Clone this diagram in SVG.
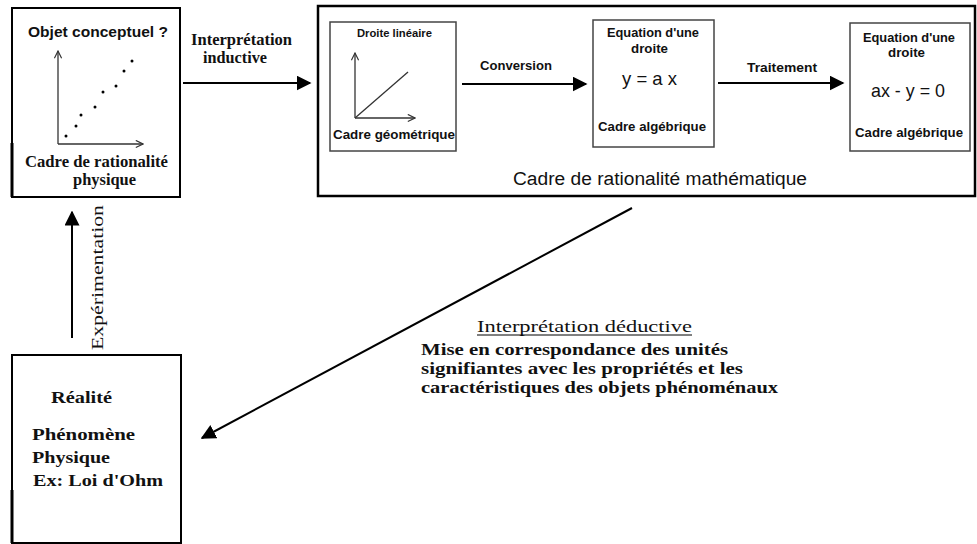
<svg xmlns="http://www.w3.org/2000/svg" width="977" height="544" viewBox="0 0 977 544">
<style>
.bx{fill:#fff;stroke:#000;stroke-width:2}
.ibx{fill:#fff;stroke:#444;stroke-width:1.5}
.ln{stroke:#000;stroke-width:2;fill:none}
.ax{stroke:#333;stroke-width:1.3;fill:none}
.sans{font-family:"Liberation Sans",Arial,sans-serif;font-weight:bold;fill:#111}
.sansr{font-family:"Liberation Sans",Arial,sans-serif;fill:#111}
.serif{font-family:"Liberation Serif","Times New Roman",serif;font-weight:bold;fill:#111}
.serifr{font-family:"Liberation Serif","Times New Roman",serif;fill:#111}
</style>
<defs>
<marker id="ah" viewBox="0 0 10 10" refX="9" refY="5" markerWidth="15" markerHeight="15" markerUnits="userSpaceOnUse" orient="auto"><path d="M0,0 L10,5 L0,10 z" fill="#000"/></marker>
<marker id="oa" viewBox="0 0 10 10" refX="9" refY="5" markerWidth="9" markerHeight="9" markerUnits="userSpaceOnUse" orient="auto"><path d="M1,1 L9,5 L1,9" fill="none" stroke="#333" stroke-width="1.3"/></marker>
</defs>
<rect width="977" height="544" fill="#fff"/>

<g id="objet-conceptuel">
<rect class="bx" x="12" y="8" width="168" height="189"/>
<line x1="12" y1="143" x2="12" y2="197" stroke="#000" stroke-width="3"/>
<text class="sans" x="28" y="37" font-size="15" textLength="140" lengthAdjust="spacingAndGlyphs">Objet conceptuel ?</text>
<line class="ax" x1="58" y1="144" x2="58" y2="51" marker-end="url(#oa)"/>
<line class="ax" x1="58" y1="144" x2="143" y2="144" marker-end="url(#oa)"/>
<g fill="#000">
<circle cx="66" cy="136" r="1.5"/><circle cx="76" cy="126" r="1.5"/><circle cx="81" cy="115" r="1.5"/><circle cx="95" cy="107" r="1.5"/>
<circle cx="103" cy="92" r="1.5"/><circle cx="116" cy="86" r="1.5"/><circle cx="124" cy="71" r="1.5"/><circle cx="132" cy="61" r="1.5"/>
</g>
<text class="serif" x="25" y="167" font-size="17" textLength="143" lengthAdjust="spacingAndGlyphs">Cadre de rationalité</text>
<text class="serif" x="73" y="185" font-size="17" textLength="63" lengthAdjust="spacingAndGlyphs">physique</text>
</g>

<g id="cadre-mathematique">
<rect x="318" y="6" width="657" height="190" fill="#fff" stroke="#000" stroke-width="2.5"/>
<text class="sansr" x="513" y="185" font-size="18" textLength="294" lengthAdjust="spacingAndGlyphs">Cadre de rationalité mathématique</text>
</g>

<g id="droite-lineaire">
<rect class="ibx" x="330" y="22" width="126" height="129"/>
<text class="sans" x="357" y="37" font-size="10.5" textLength="75" lengthAdjust="spacingAndGlyphs">Droite linéaire</text>
<line class="ax" x1="355" y1="118" x2="355" y2="53" marker-end="url(#oa)"/>
<line class="ax" x1="355" y1="118" x2="415" y2="118" marker-end="url(#oa)"/>
<line class="ax" x1="355" y1="118" x2="408" y2="72"/>
<text class="sans" x="333" y="139" font-size="12.5" textLength="122" lengthAdjust="spacingAndGlyphs">Cadre géométrique</text>
</g>

<g id="equation-1">
<rect class="ibx" x="593" y="20" width="121" height="127"/>
<text class="sans" x="607" y="37" font-size="12" textLength="92" lengthAdjust="spacingAndGlyphs">Equation d'une</text>
<text class="sans" x="631" y="53" font-size="12" textLength="37" lengthAdjust="spacingAndGlyphs">droite</text>
<text class="sansr" x="622" y="85" font-size="19" textLength="55" lengthAdjust="spacingAndGlyphs">y = a x</text>
<text class="sans" x="598" y="131" font-size="12" textLength="108" lengthAdjust="spacingAndGlyphs">Cadre algébrique</text>
</g>

<g id="equation-2">
<rect class="ibx" x="850" y="23" width="120" height="128"/>
<text class="sans" x="863" y="42" font-size="12" textLength="92" lengthAdjust="spacingAndGlyphs">Equation d'une</text>
<text class="sans" x="888" y="57" font-size="12" textLength="37" lengthAdjust="spacingAndGlyphs">droite</text>
<text class="sansr" x="871" y="97" font-size="19" textLength="74" lengthAdjust="spacingAndGlyphs">ax - y = 0</text>
<text class="sans" x="855" y="137" font-size="12" textLength="108" lengthAdjust="spacingAndGlyphs">Cadre algébrique</text>
</g>

<g id="realite">
<rect class="bx" x="12" y="355" width="169" height="188"/>
<line x1="12" y1="490" x2="12" y2="543" stroke="#000" stroke-width="3"/>
<text class="serif" x="51" y="403" font-size="17" textLength="61" lengthAdjust="spacingAndGlyphs">Réalité</text>
<text class="serif" x="32" y="440" font-size="17" textLength="103" lengthAdjust="spacingAndGlyphs">Phénomène</text>
<text class="serif" x="32" y="463" font-size="17" textLength="78" lengthAdjust="spacingAndGlyphs">Physique</text>
<text class="serif" x="33" y="486" font-size="17" textLength="130" lengthAdjust="spacingAndGlyphs">Ex: Loi d'Ohm</text>
</g>

<g id="connectors">
<line class="ln" x1="183" y1="83" x2="310" y2="83" marker-end="url(#ah)"/>
<text class="serif" x="191" y="45" font-size="16" textLength="101" lengthAdjust="spacingAndGlyphs">Interprétation</text>
<text class="serif" x="203" y="63" font-size="16" textLength="64" lengthAdjust="spacingAndGlyphs">inductive</text>

<line class="ln" x1="462" y1="84" x2="586" y2="84" marker-end="url(#ah)"/>
<text class="sans" x="480" y="70" font-size="12.5" textLength="72" lengthAdjust="spacingAndGlyphs">Conversion</text>

<line class="ln" x1="718" y1="83" x2="843" y2="83" marker-end="url(#ah)"/>
<text class="sans" x="747" y="72" font-size="12.5" textLength="70" lengthAdjust="spacingAndGlyphs">Traitement</text>

<line class="ln" x1="72" y1="338" x2="72" y2="212" marker-end="url(#ah)"/>
<text class="serifr" transform="translate(103,350) rotate(-90)" x="0" y="0" font-size="17" textLength="145" lengthAdjust="spacingAndGlyphs">Expérimentation</text>

<line class="ln" x1="632" y1="208" x2="202" y2="438" marker-end="url(#ah)"/>
<text class="serifr" x="477" y="332" font-size="17" textLength="215" lengthAdjust="spacingAndGlyphs">Interprétation déductive</text>
<line x1="477" y1="335" x2="692" y2="335" stroke="#000" stroke-width="1"/>
<text class="serif" x="421" y="355" font-size="17" textLength="307" lengthAdjust="spacingAndGlyphs">Mise en correspondance des unités</text>
<text class="serif" x="421" y="374" font-size="17" textLength="322" lengthAdjust="spacingAndGlyphs">signifiantes avec les propriétés et les</text>
<text class="serif" x="421" y="393" font-size="17" textLength="357" lengthAdjust="spacingAndGlyphs">caractéristiques des objets phénoménaux</text>
</g>
</svg>
